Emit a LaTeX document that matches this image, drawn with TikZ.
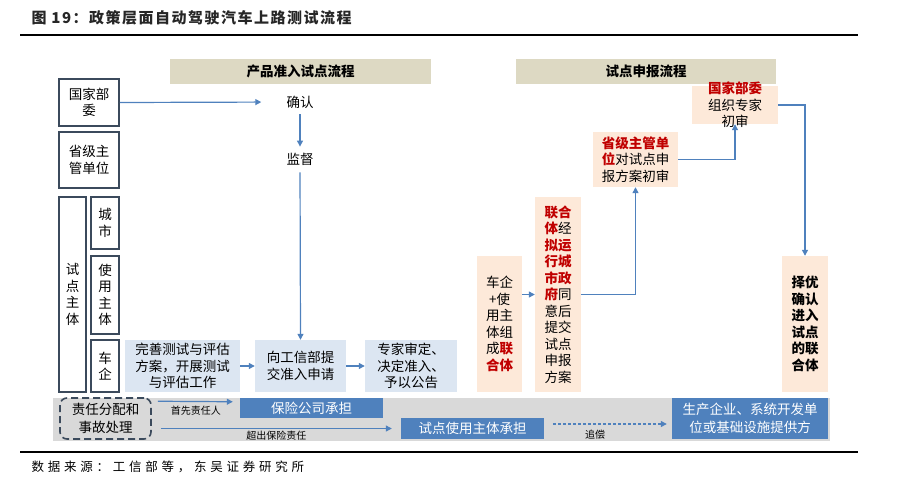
\documentclass[tikz,border=0pt]{standalone}
\usepackage{fontspec}
\usepackage{xcolor}
\setmainfont{Noto Sans CJK SC}
\newfontfamily\titulofont{Noto Sans CJK SC}[LetterSpace=10]
\newfontfamily\fuentefont{Noto Sans CJK SC}[LetterSpace=30]
\usetikzlibrary{arrows.meta}

\definecolor{borde}{HTML}{3B4A5C}
\definecolor{flechaazul}{HTML}{4F81BD}
\definecolor{celeste}{HTML}{DCE6F2}
\definecolor{crema}{HTML}{FDE9D9}
\definecolor{cabeza}{HTML}{DDD9C3}
\definecolor{franja}{HTML}{D9D9D9}
\definecolor{rojo}{HTML}{C00000}
\definecolor{azulfuerte}{HTML}{4F81BD}

\newcommand{\rj}[1]{\textcolor{rojo}{\textbf{#1}}}

\begin{document}
\begin{tikzpicture}[x=1pt, y=-1pt,
	texto/.style={inner sep=0pt, align=center, font=\fontsize{13.5}{16.5}\selectfont},
	caja/.style={texto, draw=borde, line width=1.6pt},
	cajaazul/.style={texto, fill=celeste},
	cajacrema/.style={texto, fill=crema},
	cajaazulosc/.style={texto, fill=azulfuerte, text=white, font=\fontsize{13.5}{18}\selectfont},
	cabecera/.style={texto, fill=cabeza, font=\fontsize{13.5}{16}\selectfont\bfseries},
	flecha/.style={draw=flechaazul, line width=1.2pt, -{Triangle[length=6pt, width=6pt]}},
	etiqueta/.style={inner sep=1pt, font=\fontsize{10}{12}\selectfont}]

	\useasboundingbox (0,0) rectangle (917,482);

	% Titulo y reglas
	\node[anchor=west, text=black!85, font=\titulofont\bfseries\fontsize{15}{18}\selectfont] (titulo) at (28,18) {图 19：政策层面自动驾驶汽车上路测试流程};
	\draw[line width=1.3pt] (20,35) -- (858,35);
	\draw[line width=1.3pt] (20,452) -- (858,452);
	\node[anchor=west, font=\fuentefont\fontsize{12.5}{15}\selectfont] (fuente) at (28,467) {数据来源：工信部等，东吴证券研究所};

	% Cabeceras
	\node[cabecera, minimum width=261, minimum height=25] (cab1) at (300.5,71.5) {产品准入试点流程};
	\node[cabecera, minimum width=260, minimum height=25] (cab2) at (646,71.5) {试点申报流程};

	% Cajas de la izquierda
	\node[caja, minimum width=60, minimum height=47] (gjbw) at (89,102.5) {国家部\\委};
	\node[caja, minimum width=60, minimum height=56] (sjzg) at (89,160) {省级主\\管单位};
	\node[caja, minimum width=27, minimum height=195] (sdzt) at (72.5,294.5) {试\\点\\主\\体};
	\node[caja, minimum width=28, minimum height=52] (cs) at (105,223) {城\\市};
	\node[caja, minimum width=28, minimum height=78] (syzt) at (105,295) {使\\用\\主\\体};
	\node[caja, minimum width=28, minimum height=52] (cq) at (105,366) {车\\企};

	% Producto: confirmacion y supervision
	\node[texto] (qr) at (300,102) {确认};
	\node[texto] (jd) at (300,159) {监督};
	\draw[flecha, shorten >=25pt] (gjbw.east) -- (qr.west);
	\draw[flecha, shorten <=6pt, shorten >=6pt] (qr.south) -- (jd.north);

	\node[cajaazul, minimum width=115, minimum height=52] (ws) at (182.5,366) {完善测试与评估\\方案，开展测试\\与评估工作};
	\node[cajaazul, minimum width=91, minimum height=52] (sq) at (300.5,366) {向工信部提\\交准入申请};
	\node[cajaazul, minimum width=92, minimum height=52] (zj) at (411,366) {专家审定、\\决定准入、\\予以公告};
	\draw[flecha, shorten <=7pt] (jd.south) -- (sq.north);
	\draw[flecha] (ws.east) -- (sq.west);
	\draw[flecha] (sq.east) -- (zj.west);

	% Proceso de solicitud
	\node[cajacrema, minimum width=86, minimum height=38, inner ysep=-5pt] (gjbw2) at (735,105) {\rj{国家部委}\\组织专家\\初审};
	\node[cajacrema, minimum width=85, minimum height=55] (sjzg2) at (635.5,159.5) {\rj{省级主管单}\\\rj{位}对试点申\\报方案初审};
	\node[cajacrema, minimum width=45, minimum height=136] (lht) at (499.5,324) {车企\\+使\\用主\\体组\\成\rj{联}\\\rj{合体}};
	\node[cajacrema, minimum width=46, minimum height=195] (lhj) at (558,294.5) {\rj{联合}\\\rj{体}经\\\rj{拟运}\\\rj{行城}\\\rj{市政}\\\rj{府}同\\意后\\提交\\试点\\申报\\方案};
	\node[cajacrema, minimum width=46, minimum height=136, font=\fontsize{13.5}{16.5}\selectfont\bfseries] (zy) at (805,324) {择优\\确认\\进入\\试点\\的联\\合体};
	\draw[flecha] (lhj.west -| lht.east) -- (lhj.west);
	\draw[flecha] (lhj.east) -| (sjzg2.south);
	\draw[flecha] (sjzg2.east) -| (gjbw2.south);
	\draw[flecha] (gjbw2.east) -| (zy.north);

	% Franja de responsabilidad
	\node[fill=franja, inner sep=0pt, minimum width=777, minimum height=43] (banda) at (441.5,419.5) {};
	\node[caja, rounded corners=7pt, dash pattern=on 7pt off 4pt, minimum width=91, minimum height=41, font=\fontsize{13.5}{18}\selectfont] (zrfp) at (105.5,418.5) {责任分配和\\事故处理};
	\node[cajaazulosc, minimum width=143, minimum height=20] (bxgs) at (311.5,408) {保险公司承担};
	\node[cajaazulosc, minimum width=143, minimum height=21] (syzt2) at (472.5,428.5) {试点使用主体承担};
	\node[cajaazulosc, minimum width=156, minimum height=41] (scqy) at (750,418.5) {生产企业、系统开发单\\位或基础设施提供方};

	\draw[flecha, shorten <=6pt, shorten >=7pt] ([yshift=-4pt]zrfp.north east) -- ([yshift=-4pt]bxgs.north west) node[etiqueta, midway, below=3pt] {首先责任人};
	\draw[flecha, shorten <=9pt, shorten >=9pt] (syzt2.west -| zrfp.east) -- (syzt2.west) node[etiqueta, midway, below=1pt] {超出保险责任};
	\coordinate (zc) at ([yshift=4.5pt]syzt2.east);
	\draw[flecha, dash pattern=on 3pt off 2pt, shorten <=9pt, shorten >=5pt] (zc) -- (zc -| scqy.west) node[etiqueta, pos=0.4, below=4pt] {追偿};

\end{tikzpicture}
\end{document}
